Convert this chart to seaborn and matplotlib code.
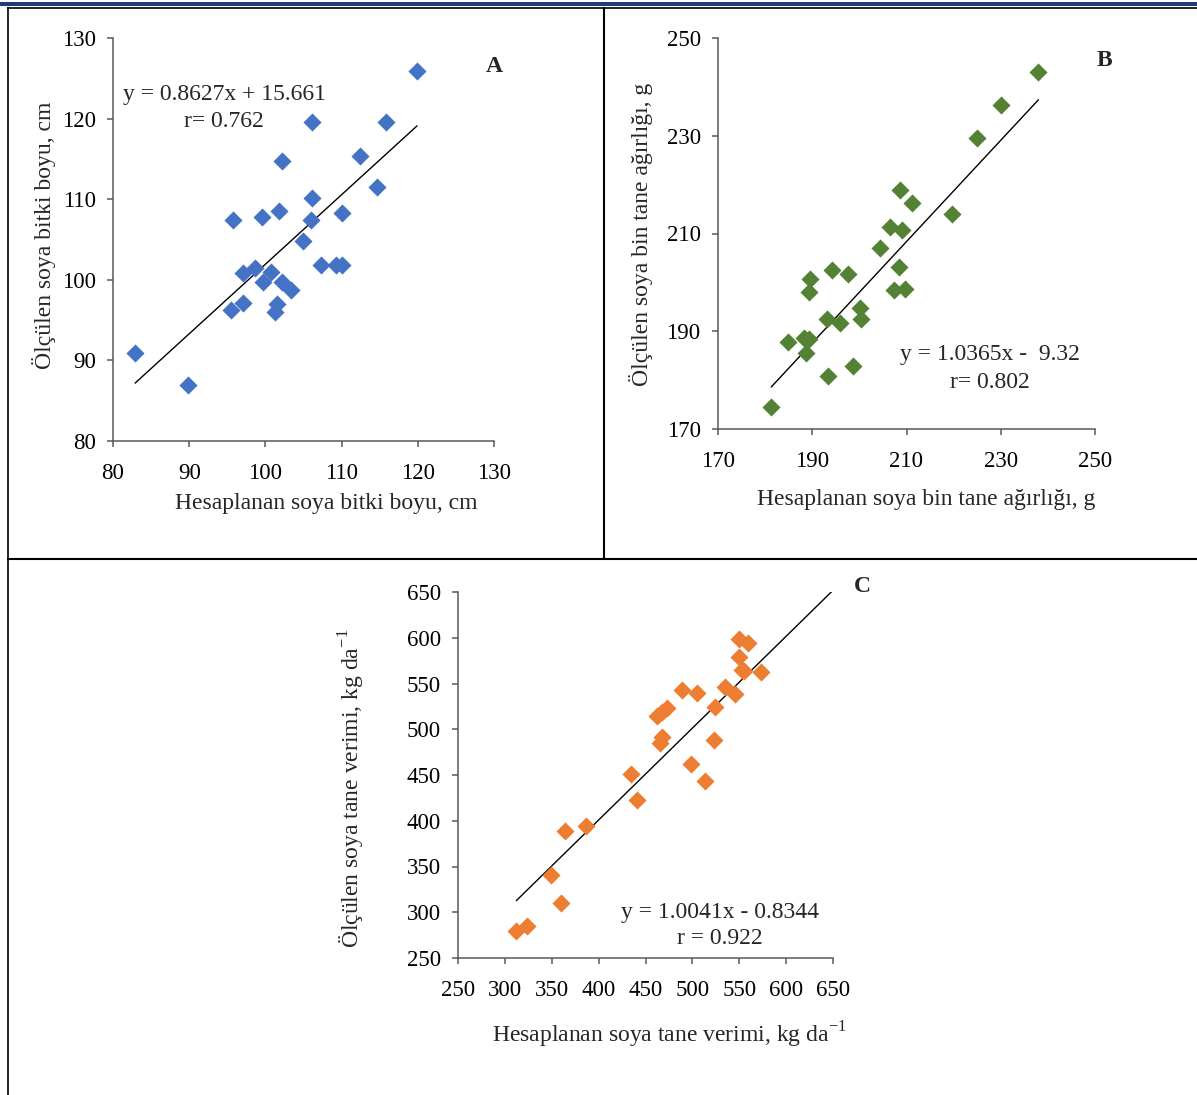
import numpy as np
import pandas as pd
import matplotlib
matplotlib.use("Agg")
import matplotlib.pyplot as plt
import seaborn as sns
from matplotlib.lines import Line2D

# PANEL A - plant height (cm)
a_calc = [82.9, 89.8, 95.5, 97.1, 95.8, 97.0, 98.6, 99.6, 99.7, 100.7, 101.8, 101.2, 101.5, 102.2,
          102.2, 103.4, 104.9, 106.1, 106.1, 106.0, 107.3, 109.2, 110.0, 110.1, 112.4, 114.7, 115.8, 119.9]
a_meas = [90.9, 87.0, 96.2, 97.1, 107.4, 100.9, 101.5, 107.8, 99.7, 101.0, 108.5, 96.0, 97.0, 114.7,
          99.7, 98.7, 104.8, 119.6, 110.2, 107.4, 101.8, 101.8, 101.8, 108.3, 115.4, 111.5, 119.6, 125.9]
a_fit = (0.8627, 15.661)

# PANEL B - thousand seed weight (g)
b_calc = [181.3, 184.9, 188.2, 189.3, 188.6, 189.5, 189.3, 193.4, 193.2, 194.1, 195.8, 197.6, 198.7, 200.1,
          200.4, 204.3, 206.5, 207.3, 208.4, 208.6, 209.1, 209.6, 211.2, 219.6, 224.9, 230.0, 238.0]
b_meas = [174.6, 187.8, 188.6, 188.4, 185.6, 200.6, 198.0, 180.8, 192.5, 202.6, 191.7, 201.8, 182.8, 194.8,
          192.5, 207.0, 211.3, 198.5, 203.2, 218.8, 210.8, 198.6, 216.2, 213.9, 229.5, 236.2, 243.0]
b_fit = (1.0365, -9.32)

# PANEL C - seed yield (kg/da)
c_calc = [312.2, 323.6, 349.6, 360.2, 364.5, 386.9, 434.9, 440.9, 462.3, 468.0, 473.3, 465.1, 468.0, 488.9,
          505.0, 498.9, 513.1, 522.7, 523.8, 534.4, 545.1, 549.7, 559.3, 549.7, 553.3, 554.7, 573.6]
c_meas = [279.1, 284.5, 340.9, 310.0, 389.3, 394.7, 451.1, 422.7, 514.4, 519.1, 522.7, 484.5, 491.1, 542.7,
          539.1, 462.0, 443.5, 488.2, 524.5, 546.4, 538.0, 599.1, 594.4, 579.1, 565.3, 563.8, 562.7]
c_fit = (1.0041, -0.8344)

sns.set_style("ticks")
plt.rcParams['font.family'] = ['Liberation Serif', 'DejaVu Serif']
plt.rcParams['mathtext.fontset'] = 'custom'
plt.rcParams['mathtext.rm'] = 'Liberation Serif'

W, H = 1197, 1095
fig = plt.figure(figsize=(W / 100, H / 100), dpi=100)

TICK_FS = 16.5
LAB_FS = 17
EQ_FS = 17


def px_axes(x0, x1, y0, y1):
    return fig.add_axes([x0 / W, 1 - y1 / H, (x1 - x0) / W, (y1 - y0) / H])


def panel(ax, xs, ys, fit, color, lims, ticks, xlab, ylab, line_to=None):
    df = pd.DataFrame({'calc': xs, 'meas': ys})
    sns.scatterplot(data=df, x='calc', y='meas', ax=ax, marker='D', s=85,
                    color=color, linewidth=0, zorder=3)
    x_end = line_to if line_to is not None else max(xs)
    lx = np.array([min(xs), x_end])
    ax.plot(lx, fit[0] * lx + fit[1], color='black', lw=1.0, zorder=2)
    ax.set_xlim(*lims)
    ax.set_ylim(*lims)
    ax.set_xticks(ticks)
    ax.set_yticks(ticks)
    sns.despine(ax=ax)
    for s in ['left', 'bottom']:
        ax.spines[s].set_color('#595959')
        ax.spines[s].set_linewidth(1.1)
    ax.tick_params(direction='out', length=4.5, width=1.1, color='#595959',
                   labelsize=TICK_FS, labelcolor='black')
    ax.tick_params(axis='y', pad=8)
    ax.tick_params(axis='x', pad=11)
    ax.set_xlabel(xlab, fontsize=LAB_FS, ha='center', va='center')
    ax.set_ylabel(ylab, fontsize=LAB_FS, ha='center', va='center')
    for c in ax.collections:
        c.set_clip_on(False)


axA = px_axes(113, 494, 38, 441)
panel(axA, a_calc, a_meas, a_fit, '#4472C4', (80, 130), [80, 90, 100, 110, 120, 130],
      'Hesaplanan soya bitki boyu, cm', 'Ölçülen soya bitki boyu, cm')
axA.xaxis.set_label_coords(0.56, -0.155)
axA.yaxis.set_label_coords(-0.18, 0.51)
axA.text(94.6, 123.0, 'y = 0.8627x + 15.661', fontsize=EQ_FS, ha='center', va='center')
axA.text(94.6, 119.6, 'r= 0.762', fontsize=EQ_FS, ha='center', va='center')

axB = px_axes(718, 1095, 38, 429)
panel(axB, b_calc, b_meas, b_fit, '#548235', (170, 250), [170, 190, 210, 230, 250],
      'Hesaplanan soya bin tane ağırlığı, g', 'Ölçülen soya bin tane ağırlığı, g')
axB.xaxis.set_label_coords(0.553, -0.18)
axB.yaxis.set_label_coords(-0.205, 0.497)
axB.text(227.7, 185.2, 'y = 1.0365x -  9.32', fontsize=EQ_FS, ha='center', va='center')
axB.text(227.7, 179.6, 'r= 0.802', fontsize=EQ_FS, ha='center', va='center')

axC = px_axes(458, 833, 592, 958)
panel(axC, c_calc, c_meas, c_fit, '#ED7D31', (250, 650), list(range(250, 651, 50)),
      r'Hesaplanan soya tane verimi, kg da$^{\mathregular{-1}}$',
      r'Ölçülen soya tane verimi, kg da$^{\mathregular{-1}}$', line_to=650)
axC.xaxis.set_label_coords(0.563, -0.21)
axC.yaxis.set_label_coords(-0.283, 0.464)
axC.text(529.5, 300.2, 'y = 1.0041x - 0.8344', fontsize=EQ_FS, ha='center', va='center')
axC.text(529.5, 270.8, 'r = 0.922', fontsize=EQ_FS, ha='center', va='center')

# panel letters
fig.text(494 / W, 1 - 67 / H, 'A', fontsize=17, fontweight='bold', ha='center', va='center')
fig.text(1104 / W, 1 - 61 / H, 'B', fontsize=17, fontweight='bold', ha='center', va='center')
fig.text(862 / W, 1 - 586 / H, 'C', fontsize=17, fontweight='bold', ha='center', va='center')


# page header band and table borders
def hline(y, x0, x1, lw, color='black'):
    fig.add_artist(Line2D([x0 / W, x1 / W], [1 - y / H, 1 - y / H], lw=lw, color=color,
                          solid_capstyle='butt'))


def vline(x, y0, y1, lw, color='black'):
    fig.add_artist(Line2D([x / W, x / W], [1 - y0 / H, 1 - y1 / H], lw=lw, color=color,
                          solid_capstyle='butt'))


hline(3.7, 0, W, 2.9, '#1F3C78')
hline(7.5, 6.7, W, 1.2)
vline(7.5, 6.7, H, 1.2)
vline(604, 6.7, 559, 1.5)
hline(559, 6.7, W, 1.5)

fig.savefig('out.png', dpi=100)
